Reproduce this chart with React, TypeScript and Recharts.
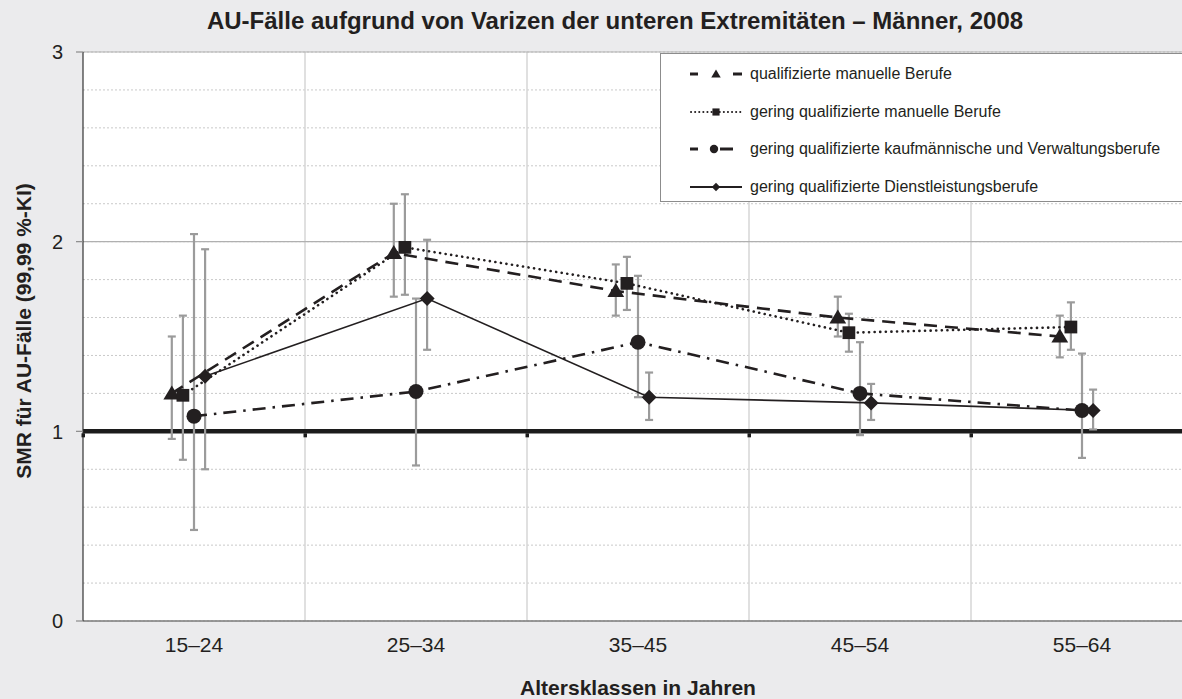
import React from 'react';
import {
  ComposedChart,
  Line,
  XAxis,
  YAxis,
  CartesianGrid,
  ReferenceLine,
  ReferenceDot,
  ErrorBar,
} from 'recharts';

const categories = ['15–24', '25–34', '35–45', '45–54', '55–64'];

// qualifizierte manuelle Berufe
const qmValues = [1.2, 1.94, 1.74, 1.6, 1.5];
const qmLow = [0.96, 1.71, 1.61, 1.5, 1.39];
const qmHigh = [1.5, 2.2, 1.88, 1.71, 1.61];

// gering qualifizierte manuelle Berufe
const gqmValues = [1.19, 1.97, 1.78, 1.52, 1.55];
const gqmLow = [0.85, 1.72, 1.64, 1.42, 1.43];
const gqmHigh = [1.61, 2.25, 1.92, 1.62, 1.68];

// gering qualifizierte kaufmännische und Verwaltungsberufe
const gqkValues = [1.08, 1.21, 1.47, 1.2, 1.11];
const gqkLow = [0.48, 0.82, 1.18, 0.98, 0.86];
const gqkHigh = [2.04, 1.7, 1.82, 1.47, 1.41];

// gering qualifizierte Dienstleistungsberufe
const gqdValues = [1.29, 1.7, 1.18, 1.15, 1.11];
const gqdLow = [0.8, 1.43, 1.06, 1.06, 1.01];
const gqdHigh = [1.96, 2.01, 1.31, 1.25, 1.22];

const yTicks = [0, 0.2, 0.4, 0.6, 0.8, 1, 1.2, 1.4, 1.6, 1.8, 2, 2.2, 2.4, 2.6, 2.8, 3];
const majorTicks = [2, 3];
const groupBounds = [0, 1, 2, 3, 4, 5];

const INK = '#231f20';
const FONT = '"Liberation Sans", Arial, sans-serif';

type Marker = 'triangle' | 'square' | 'circle' | 'diamond';

const drawMarker = (m: Marker, cx: number, cy: number, s: number, key?: any) => {
  if (m === 'triangle')
    return <polygon key={key} points={`${cx},${cy - s} ${cx + s * 1.05},${cy + s * 0.75} ${cx - s * 1.05},${cy + s * 0.75}`} fill={INK} />;
  if (m === 'square')
    return <rect key={key} x={cx - s * 0.85} y={cy - s * 0.85} width={s * 1.7} height={s * 1.7} fill={INK} />;
  if (m === 'circle') return <circle key={key} cx={cx} cy={cy} r={s} fill={INK} />;
  return <polygon key={key} points={`${cx},${cy - s} ${cx + s},${cy} ${cx},${cy + s} ${cx - s},${cy}`} fill={INK} />;
};

const series = [
  { name: 'qualifizierte manuelle Berufe', values: qmValues, low: qmLow, high: qmHigh, offset: -0.1, dash: '13 8', width: 2.6, cap: 'butt', marker: 'triangle' as Marker, size: 8 },
  { name: 'gering qualifizierte manuelle Berufe', values: gqmValues, low: gqmLow, high: gqmHigh, offset: -0.05, dash: '0.1 5.5', width: 2.6, cap: 'round', marker: 'square' as Marker, size: 7.5 },
  { name: 'gering qualifizierte kaufmännische und Verwaltungsberufe', values: gqkValues, low: gqkLow, high: gqkHigh, offset: 0, dash: '13 7 2.5 7', width: 2.6, cap: 'butt', marker: 'circle' as Marker, size: 7.5 },
  { name: 'gering qualifizierte Dienstleistungsberufe', values: gqdValues, low: gqdLow, high: gqdHigh, offset: 0.05, dash: undefined, width: 1.6, cap: 'butt', marker: 'diamond' as Marker, size: 7.5 },
];

const seriesData = series.map((s) =>
  s.values.map((v, i) => ({
    x: i + 0.5 + s.offset,
    y: v,
    err: [v - s.low[i], s.high[i] - v],
  }))
);

const YTick = (props: any) => {
  const { x, y, payload } = props;
  const v = payload.value;
  if (Math.abs(v - Math.round(v)) > 1e-6) return <g />;
  return (
    <g>
      <line x1={x + 13} x2={x + 20} y1={y} y2={y} stroke="#8a8a8a" strokeWidth={1.2} />
      <text x={x} y={y} dy="0.36em" textAnchor="end" fontSize={20} fill={INK} fontFamily={FONT}>
        {v}
      </text>
    </g>
  );
};

const LegendSample = ({ s }: { s: (typeof series)[number] }) => {
  let line: React.ReactNode;
  if (s.marker === 'triangle') {
    line = (
      <g stroke={INK} strokeWidth={3}>
        <line x1={0} x2={8} y1={8} y2={8} />
        <line x1={43} x2={52} y1={8} y2={8} />
      </g>
    );
  } else if (s.marker === 'square') {
    line = <line x1={1} x2={51} y1={8} y2={8} stroke={INK} strokeWidth={2} strokeDasharray="0.1 4" strokeLinecap="round" />;
  } else if (s.marker === 'circle') {
    line = (
      <g stroke={INK} strokeWidth={3}>
        <line x1={0} x2={8} y1={8} y2={8} />
        <line x1={30} x2={43} y1={8} y2={8} />
      </g>
    );
  } else {
    line = <line x1={0} x2={52} y1={8} y2={8} stroke={INK} strokeWidth={2} />;
  }
  const cx = s.marker === 'circle' ? 24 : 26;
  return (
    <svg width={52} height={16} style={{ display: 'block' }}>
      {line}
      {drawMarker(s.marker, cx, 8, s.marker === 'triangle' ? 4.5 : 4.2)}
    </svg>
  );
};

export default function App() {
  return (
    <div
      style={{
        position: 'fixed',
        left: 0,
        top: 0,
        width: 1182,
        height: 699,
        overflow: 'hidden',
        background: '#ebebed',
        fontFamily: FONT,
        color: INK,
      }}
    >
      <div
        style={{
          position: 'absolute',
          left: 0,
          width: 1230,
          top: 7,
          textAlign: 'center',
          fontSize: 24,
          fontWeight: 'bold',
        }}
      >
        AU-Fälle aufgrund von Varizen der unteren Extremitäten – Männer, 2008
      </div>
      <div
        style={{
          position: 'absolute',
          left: 24,
          top: 331,
          transform: 'translate(-50%, -50%) rotate(-90deg)',
          whiteSpace: 'nowrap',
          fontSize: 21,
          fontWeight: 'bold',
        }}
      >
        SMR für AU-Fälle (99,99 %-KI)
      </div>
      <div
        style={{
          position: 'absolute',
          left: 0,
          width: 1276,
          top: 676,
          textAlign: 'center',
          fontSize: 21,
          fontWeight: 'bold',
        }}
      >
        Altersklassen in Jahren
      </div>

      <div style={{ position: 'absolute', left: 0, top: 0 }}>
        <ComposedChart width={1200} height={699} margin={{ top: 52, right: 7, bottom: 0, left: 0 }}>
          <CartesianGrid
            vertical={false}
            fill="#ffffff"
            stroke="#c9c9c9"
            strokeDasharray="2 2"
          />
          {groupBounds.slice(1).map((b) => (
            <ReferenceLine key={`v${b}`} x={b} stroke="#d6d6d6" strokeWidth={1.5} />
          ))}
          {majorTicks.map((t) => (
            <ReferenceLine key={`h${t}`} y={t} stroke="#b0b0b0" strokeWidth={1.2} />
          ))}
          <XAxis
            type="number"
            dataKey="x"
            domain={[0, 5]}
            ticks={[0.5, 1.5, 2.5, 3.5, 4.5]}
            interval={0}
            tickFormatter={(v: number) => categories[Math.floor(v)]}
            tick={{ fill: INK, fontSize: 21, fontFamily: FONT }}
            tickLine={false}
            tickMargin={10}
            axisLine={{ stroke: '#7a7a7a', strokeWidth: 1.5 }}
            height={78}
            allowDataOverflow
          />
          <YAxis
            type="number"
            dataKey="y"
            domain={[0, 3]}
            ticks={yTicks}
            interval={0}
            width={83}
            tick={<YTick />}
            tickLine={false}
            tickSize={7}
            tickMargin={13}
            axisLine={{ stroke: '#333333', strokeWidth: 1.2 }}
            allowDataOverflow
          />
          <ReferenceLine y={1} stroke="#1c1c1c" strokeWidth={4.5} />
          {groupBounds.map((b) => (
            <ReferenceDot
              key={`t${b}`}
              x={b}
              y={1}
              r={0}
              shape={(p: any) => <rect x={p.cx - 1.5} y={p.cy + 2} width={3.5} height={4} fill="#1c1c1c" />}
            />
          ))}

          {series.map((s, si) => (
            <Line
              key={`err${si}`}
              data={seriesData[si]}
              dataKey="y"
              stroke="none"
              dot={false}
              activeDot={false}
              legendType="none"
              isAnimationActive={false}
            >
              <ErrorBar dataKey="err" direction="y" width={4} stroke="#9b9b9b" strokeWidth={2.2} />
            </Line>
          ))}

          {series.map((s, si) => (
            <Line
              key={`ser${si}`}
              name={s.name}
              data={seriesData[si]}
              dataKey="y"
              stroke={INK}
              strokeWidth={s.width}
              strokeDasharray={s.dash}
              strokeLinecap={s.cap as any}
              dot={(p: any) => drawMarker(s.marker, p.cx, p.cy, s.size, `d${si}-${p.index}`)}
              activeDot={false}
              isAnimationActive={false}
            />
          ))}
        </ComposedChart>
      </div>

      <div
        style={{
          position: 'absolute',
          left: 660,
          top: 53,
          width: 560,
          height: 149,
          background: '#ffffff',
          border: '1.5px solid #8c8c8c',
          boxSizing: 'border-box',
        }}
      >
        {series.map((s, i) => (
          <div
            key={s.name}
            style={{
              position: 'absolute',
              left: 29,
              top: 11 + i * 37.7,
              height: 18,
              display: 'flex',
              alignItems: 'center',
              whiteSpace: 'nowrap',
              fontSize: 16,
            }}
          >
            <LegendSample s={s} />
            <span style={{ marginLeft: 8 }}>{s.name}</span>
          </div>
        ))}
      </div>
    </div>
  );
}
